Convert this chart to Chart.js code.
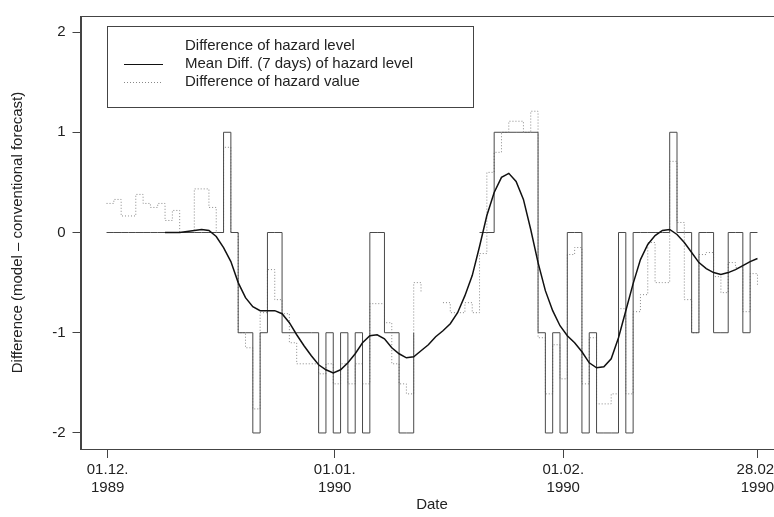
<!DOCTYPE html>
<html>
<head>
<meta charset="utf-8">
<script src="https://cdn.jsdelivr.net/npm/chart.js@4.4.0/dist/chart.umd.min.js"></script>
<style>
html, body { margin: 0; padding: 0; overflow: hidden; background: #fff; }
#wrap { width: 800px; height: 517px; }
</style>
</head>
<body>
<div id="wrap"><canvas id="chart" width="800" height="517"></canvas></div>
<script>
// day 0 = 01.12.1989 ... day 89 = 28.02.1990
var dayIndex = [0,1,2,3,4,5,6,7,8,9,10,11,12,13,14,15,16,17,18,19,20,21,22,23,24,25,26,27,28,29,
  30,31,32,33,34,35,36,37,38,39,40,41,42,43,44,45,46,47,48,49,50,51,52,53,54,55,56,57,58,59,
  60,61,62,63,64,65,66,67,68,69,70,71,72,73,74,75,76,77,78,79,80,81,82,83,84,85,86,87,88,89];

// date ticks sit slightly right of the day points in the original
var tickDays = [0.15, 31.2, 62.45, 89.0];
var tickLabels = [["01.12.", "1989"], ["01.01.", "1990"], ["01.02.", "1990"], ["28.02.", "1990"]];
var yTicks = [-2, -1, 0, 1, 2];

// difference of hazard level (step)
var levelDiff = [0,0,0,0,0,0,0,0,0,0,0,0,0,0,0,0, 1, 0, -1,-1, -2, -1, 0,0, -1,-1,-1,-1,-1,
  -2, -1, -2, -1, -2, -1, -2, 0,0, -1,-1, -2,-2, -1,
  null,null,null,null,null,null,null,null,
  0,0, 1,1,1,1,1,1, -1, -2, -1, -2, 0,0, -2, -1, -2,-2,-2, 0, -2, 0,0,0,0,0, 1, 0,0,
  -1, 0,0, -1,-1, 0,0, -1, 0, 0];

// mean difference (7 days) of hazard level
var meanDiff = [null,null,null,null,null,null,null,null,
  0.00, 0.00, 0.00, 0.01, 0.02, 0.03, 0.02, -0.04, -0.15, -0.29, -0.50, -0.65,
  -0.74, -0.78, -0.78, -0.78, -0.81, -0.90, -1.02, -1.13, -1.23, -1.32,
  -1.37, -1.40, -1.37, -1.30, -1.21, -1.10, -1.03, -1.02, -1.06, -1.15,
  -1.21, -1.25, -1.24, -1.18, -1.12, -1.04, -0.98, -0.91, -0.80, -0.63,
  -0.43, -0.14, 0.17, 0.40, 0.55, 0.59, 0.51, 0.33, 0.03, -0.30,
  -0.58, -0.78, -0.93, -1.03, -1.10, -1.19, -1.30, -1.35, -1.34, -1.26,
  -1.05, -0.78, -0.51, -0.27, -0.12, -0.03, 0.02, 0.03, -0.02, -0.10,
  -0.20, -0.30, -0.36, -0.40, -0.42, -0.40, -0.37, -0.33, -0.29, -0.26];

// difference of hazard value (step, dotted)
var valueDiff = [0.29, 0.33, 0.165, 0.165, 0.38, 0.29, 0.25, 0.29, 0.12, 0.22,
  0, 0, 0.435, 0.435, 0.25, 0, 0.85, 0, -1.0, -1.15,
  -1.76, -0.80, -0.37, -0.67, -0.81, -1.10, -1.31, -1.31, -1.31, -1.41,
  -1.31, -1.51, -1.31, -1.51, -1.31, -1.51, -0.71, -0.71, -0.90, -1.31,
  -1.51, -1.61, -0.50, -0.60, null, null, -0.70, -0.80, -0.80, -0.70,
  -0.80, -0.21, 0.60, 0.80, 1.00, 1.11, 1.11, 1.00, 1.21, -1.05,
  -1.61, -1.12, -1.46, -0.22, -0.15, -1.51, -1.05, -1.71, -1.71, -1.61,
  -0.76, -1.61, -0.79, -0.62, -0.10, -0.50, -0.50, 0.71, 0.10, -0.67,
  -1.00, -0.22, -0.20, -0.44, -0.60, -0.30, -0.35, -0.79, -0.41, -0.54];

var seriesNames = ["Difference of hazard level", "Mean Diff. (7 days) of hazard level", "Difference of hazard value"];

function toPoints(values) {
  return values.map(function (v, i) { return { x: dayIndex[i], y: v }; });
}

var FONT = "'Liberation Sans', Arial, Helvetica, sans-serif";
var INK = "#222";
var AXIS = "#444";

// box around the plot region plus the R style legend box
var framePlugin = {
  id: "frame",
  afterDraw: function (chart) {
    var ctx = chart.ctx, a = chart.chartArea;
    ctx.save();
    ctx.strokeStyle = AXIS;
    ctx.lineWidth = 1;
    ctx.strokeRect(Math.round(a.left) + 0.5, Math.round(a.top) + 0.5,
      Math.round(a.right - a.left), Math.round(a.bottom - a.top));

    ctx.strokeRect(107.5, 26.5, 366, 81);
    ctx.font = "15px " + FONT;
    ctx.fillStyle = INK;
    ctx.textBaseline = "middle";
    var rows = [45.5, 64, 81.5];
    seriesNames.forEach(function (name, i) {
      ctx.fillText(name, 185, rows[i]);
    });
    ctx.strokeStyle = "#111";
    ctx.beginPath();
    ctx.moveTo(124, Math.round(rows[1]) + 0.5); ctx.lineTo(163, Math.round(rows[1]) + 0.5);
    ctx.stroke();
    ctx.strokeStyle = "#888";
    ctx.setLineDash([1, 2]);
    ctx.beginPath();
    ctx.moveTo(124, Math.round(rows[2]) + 0.5); ctx.lineTo(163, Math.round(rows[2]) + 0.5);
    ctx.stroke();
    ctx.restore();
  }
};

Chart.defaults.font.family = FONT;
Chart.defaults.font.size = 15;
Chart.defaults.color = INK;

new Chart(document.getElementById("chart"), {
  type: "line",
  data: {
    datasets: [{
      label: seriesNames[0],
      data: toPoints(levelDiff),
      stepped: "before",
      borderColor: "#4a4a4a",
      borderWidth: 1,
      pointRadius: 0,
      order: 2
    }, {
      label: seriesNames[1],
      data: toPoints(meanDiff),
      borderColor: "#111",
      borderWidth: 1.5,
      pointRadius: 0,
      tension: 0,
      order: 1
    }, {
      label: seriesNames[2],
      data: toPoints(valueDiff),
      stepped: "before",
      borderColor: "#888",
      borderWidth: 1,
      borderDash: [1, 2],
      pointRadius: 0,
      order: 3
    }]
  },
  options: {
    responsive: false,
    animation: false,
    devicePixelRatio: 1,
    layout: { padding: { left: 0, right: 16.5, top: 11, bottom: 0 } },
    plugins: { legend: { display: false }, tooltip: { enabled: false } },
    scales: {
      x: {
        type: "linear",
        min: -3.56,
        max: 92.56,
        afterFit: function (s) { s.height = 68; },
        afterBuildTicks: function (s) { s.ticks = tickDays.map(function (v) { return { value: v }; }); },
        grid: { drawOnChartArea: false, tickLength: 9, color: AXIS },
        border: { display: true, color: AXIS },
        ticks: {
          autoSkip: false,
          maxRotation: 0,
          padding: 3,
          color: INK,
          font: { size: 15, lineHeight: 1.2 },
          callback: function (v) { return tickLabels[tickDays.indexOf(v)]; }
        },
        title: { display: true, text: "Date", color: INK, font: { size: 15 }, padding: { top: 0, bottom: 3 } }
      },
      y: {
        min: -2.16,
        max: 2.16,
        afterFit: function (s) { s.width = 80.5; },
        afterBuildTicks: function (s) { s.ticks = yTicks.map(function (v) { return { value: v }; }); },
        grid: { drawOnChartArea: false, tickLength: 8, color: AXIS },
        border: { display: true, color: AXIS },
        ticks: { padding: 7, color: INK, font: { size: 15 }, callback: function (v) { return String(v); } },
        title: { display: true, text: "Difference (model \u2013 conventional forecast)", color: INK,
          font: { size: 15 }, padding: { top: 9, bottom: 0 } }
      }
    }
  },
  plugins: [framePlugin]
});
</script>
</body>
</html>
